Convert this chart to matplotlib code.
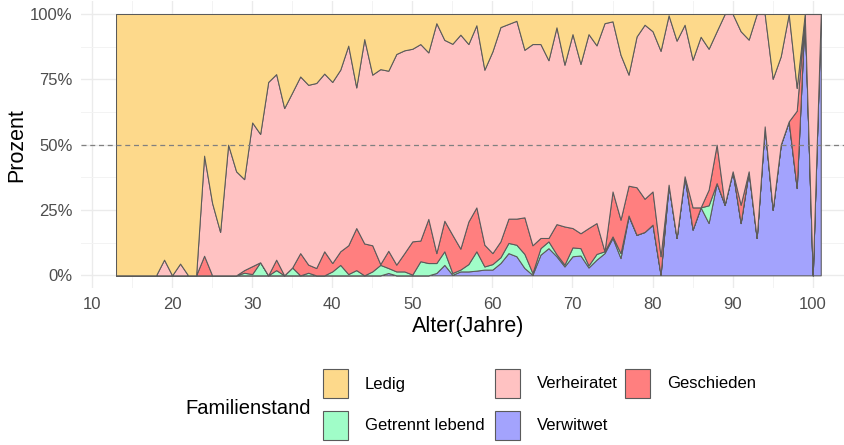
import numpy as np
import matplotlib.pyplot as plt
from matplotlib.patches import Rectangle

plt.rcParams['font.family'] = ['Liberation Sans', 'DejaVu Sans']

# -----------------------------
# DATA: shares per age (percent)
# -----------------------------
ages = np.arange(13, 102)

# cumulative boundaries: top of Verwitwet, Getrennt, Geschieden, Verheiratet
verwitwet_top = [0, 0, 0, 0, 0, 0, 0, 0, 0, 0, 0, 0, 0, 0, 0, 0,           # 13-28
                 0, 0, 0, 0, 0, 0, 0, 0, 0, 0, 0, 0, 0, 0, 0, 0, 0, 0,     # 29-46
                 0.9, 0, 0, 0, 0, 0, 0.9, 4, 0.2, 1.5, 1.5, 1.8, 2.2, 2.2,  # 47-60
                 4.7, 8.5, 7.3, 2.8, 0.2, 7.9, 10.4, 7.3, 3.4, 7.3, 7.6,    # 61-71
                 3.0, 6.0, 8.5, 14.3, 6.6, 22.6, 15.5, 16.6, 19.4, 0.2,     # 72-81
                 34.7, 14.3, 37.9, 17.5, 26.0, 20.0, 35.3, 27.0, 39.8,      # 82-90
                 20.0, 39.8, 14.3, 57.0, 25.1, 50.0, 58.9, 33.4, 100, 0, 100]  # 91-101
getrennt_top = [0, 0, 0, 0, 0, 0, 0, 0, 0, 0, 0, 0, 0, 0, 0, 0,
                1, 0.5, 5, 0, 2, 0, 3, 0, 1, 0, 0, 1.5, 4, 0.5, 2, 0, 1.5, 4,
                2.8, 1.5, 1.5, 0.3, 5.4, 4.7, 4.7, 9.2, 0.9, 2.2, 4.3, 9.2, 3.4, 4.3,
                6.9, 12.4, 11.7, 8.2, 0.9, 10.4, 13.0, 8.1, 4.1, 10.7, 10.4,
                3.8, 8.2, 9.2, 14.9, 8.5, 22.9, 15.5, 16.6, 19.4, 0.2,
                34.7, 14.3, 37.9, 17.5, 26.0, 26.8, 35.3, 27.0, 39.8,
                20.0, 39.8, 14.3, 57.0, 25.1, 50.0, 58.9, 33.4, 100, 0, 100]
geschieden_top = [0, 0, 0, 0, 0, 0, 0, 0, 0, 0, 0, 7.5, 0, 0, 0, 0,
                  2, 3.5, 5, 0, 6, 0, 3, 8.5, 4.1, 2.8, 9.2, 4.7, 9.2, 11.5, 18.1, 12.2, 11.5, 4.3,
                  9.4, 4.1, 8.5, 13.0, 13.3, 21.6, 8.5, 20.9, 15.5, 10.2, 20.6, 26.0, 11.7, 8.5,
                  13.0, 21.7, 21.7, 22.2, 11.5, 14.3, 14.3, 19.6, 18.7, 18.1, 16.1,
                  18.1, 20.0, 9.2, 32.1, 21.3, 34.3, 33.7, 29.3, 32.1, 7.3,
                  34.7, 14.3, 37.9, 26.0, 26.0, 32.8, 50.0, 27.0, 39.8,
                  27.0, 39.8, 14.3, 57.0, 25.1, 50.0, 58.9, 63.0, 100, 0, 100]
verheiratet_top = [0, 0, 0, 0, 0, 0, 6, 0, 4.5, 0, 0, 45.8, 27.7, 16.6, 50.0, 39.8,
                   36.8, 58.5, 54.1, 74.0, 77.0, 64.0, 70.0, 76.1, 72.9, 73.6, 77.2, 74.0, 78.7, 87.9, 71.9, 90.4, 76.8, 78.9,
                   78.3, 84.7, 86.1, 86.7, 88.5, 85.3, 96.5, 90.1, 88.6, 92.1, 88.5, 95.7, 78.7, 85.7,
                   95.0, 96.2, 97.4, 86.3, 88.5, 88.5, 82.3, 94.9, 80.6, 92.3, 80.9,
                   92.3, 88.0, 96.5, 97.2, 84.4, 76.8, 91.4, 95.9, 93.4, 85.9,
                   99.5, 89.8, 95.9, 82.5, 91.3, 86.7, 93.4, 100, 100,
                   93.4, 90.2, 100, 100, 75.2, 83.8, 100, 71.7, 100, 100, 100]

tops = np.array([verwitwet_top, getrennt_top, geschieden_top, verheiratet_top, [100] * len(ages)])
shares = np.diff(np.vstack([np.zeros(len(ages)), tops]), axis=0)
shares = shares / shares.sum(axis=0)

labels = ['Verwitwet', 'Getrennt lebend', 'Geschieden', 'Verheiratet', 'Ledig']
colors = ['#A3A3FD', '#A0FDC8', '#FF7F7F', '#FFC2C2', '#FDD98B']

# -----------------------------
# PLOT
# -----------------------------
fig = plt.figure(figsize=(8.45, 4.45), dpi=100)
ax = fig.add_axes([0.0956, 0.3519, 0.9174, 0.646])

ax.stackplot(ages, shares, colors=colors, edgecolor='#5a5a5a', linewidth=0.75, zorder=2)
ax.axhline(0.5, color='#808080', linestyle=(0, (4, 3)), linewidth=0.9, zorder=3)

ax.set_xlim(8.6, 105.4)
ax.set_ylim(-0.05, 1.05)
ax.set_xticks(np.arange(10, 101, 10))
ax.set_xticks(np.arange(15, 106, 10), minor=True)
ax.set_yticks([0, 0.25, 0.5, 0.75, 1.0])
ax.set_yticks([0.125, 0.375, 0.625, 0.875], minor=True)
ax.set_yticklabels(['0%', '25%', '50%', '75%', '100%'])

ax.grid(True, which='major', color='#EBEBEB', linewidth=1.0, zorder=0)
ax.grid(True, which='minor', color='#F3F3F3', linewidth=0.7, zorder=0)
ax.set_axisbelow(True)
for s in ax.spines.values():
    s.set_visible(False)
ax.tick_params(which='both', length=0, labelsize=12, colors='#4D4D4D', pad=6)

ax.set_xlabel('Alter(Jahre)', fontsize=15.5, labelpad=3)
ax.set_ylabel('Prozent', fontsize=15.5, labelpad=1.5)

# legend drawn on the figure
fig.text(185 / 845, 1 - 408 / 445, 'Familienstand', fontsize=14.5, va='center', ha='left')
legend_order = ['Ledig', 'Verheiratet', 'Geschieden', 'Getrennt lebend', 'Verwitwet']
col_x = [323, 495, 625]
row_y = [369, 411]
for i, name in enumerate(legend_order):
    r, c = divmod(i, 3)
    x0, y0 = col_x[c], row_y[r]
    fig.patches.append(Rectangle((x0 / 845, 1 - (y0 + 29) / 445), 25 / 845, 29 / 445,
                                 facecolor=colors[labels.index(name)], edgecolor='#5a5a5a',
                                 linewidth=0.8, transform=fig.transFigure))
    fig.text((x0 + 42) / 845, 1 - (y0 + 15) / 445, name, fontsize=12, va='center', ha='left')

fig.savefig('out.png', dpi=100)
